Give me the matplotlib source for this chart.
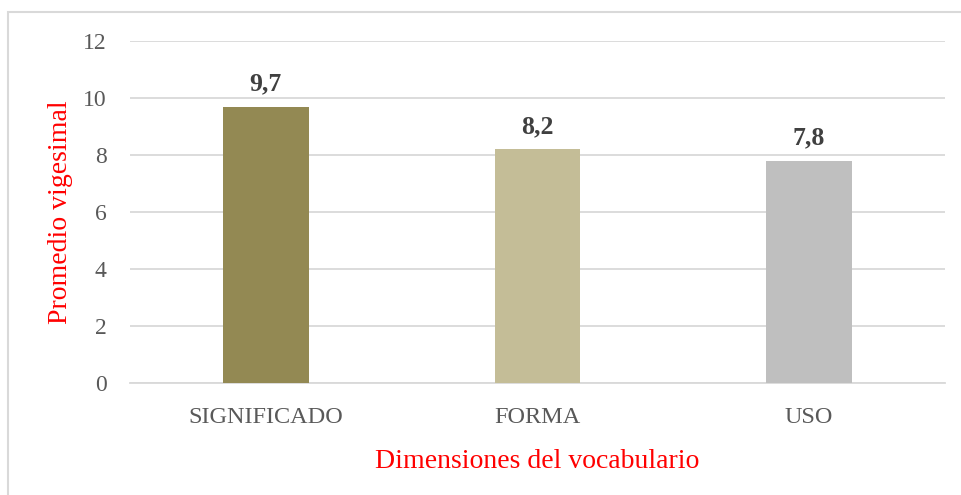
import matplotlib.pyplot as plt
from matplotlib.patches import Rectangle

categorias = ["SIGNIFICADO", "FORMA", "USO"]
promedios = [9.7, 8.2, 7.8]
etiquetas = ["9,7", "8,2", "7,8"]
colores = ["#938953", "#C4BD97", "#BFBFBF"]
yticks = [0, 2, 4, 6, 8, 10, 12]

plt.rcParams['font.family'] = ['Liberation Serif', 'DejaVu Serif']

fig = plt.figure(figsize=(9.61, 4.95), dpi=100)
ax = fig.add_axes([130/961, 1 - 383/495, 815/961, 342/495])

# marco del grafico (solo arriba e izquierda visibles)
fig.patches.append(Rectangle((8/961, -0.1), 1.2, 1 - 12/495 + 0.1, transform=fig.transFigure,
                             fill=False, edgecolor="#D9D9D9", linewidth=1.5))

x = range(len(categorias))
ax.bar(x, promedios, width=0.316, color=colores, zorder=3)
for i, v in enumerate(promedios):
    ax.text(i, v + 0.4, etiquetas[i], ha="center", va="bottom", fontsize=18.5,
            fontweight="bold", color="#404040")

ax.set_xlim(-0.5, 2.5)
ax.set_ylim(0, 12)
ax.set_yticks(yticks)
ax.set_xticks(list(x))
ax.set_xticklabels(categorias)
ax.tick_params(axis="both", length=0, labelcolor="#595959")
ax.tick_params(axis="y", pad=17, labelsize=17)
ax.tick_params(axis="x", pad=17.5, labelsize=17.5)
ax.grid(axis="y", color="#D9D9D9", linewidth=1.3, zorder=0)
for s in ["top", "right", "left"]:
    ax.spines[s].set_visible(False)
ax.spines["bottom"].set_color("#D9D9D9")
ax.spines["bottom"].set_linewidth(1.3)

ax.set_ylabel("Promedio vigesimal", color="red", fontsize=20, labelpad=7)
ax.set_xlabel("Dimensiones del vocabulario", color="red", fontsize=20, labelpad=15)

plt.savefig("out.png", dpi=100)
